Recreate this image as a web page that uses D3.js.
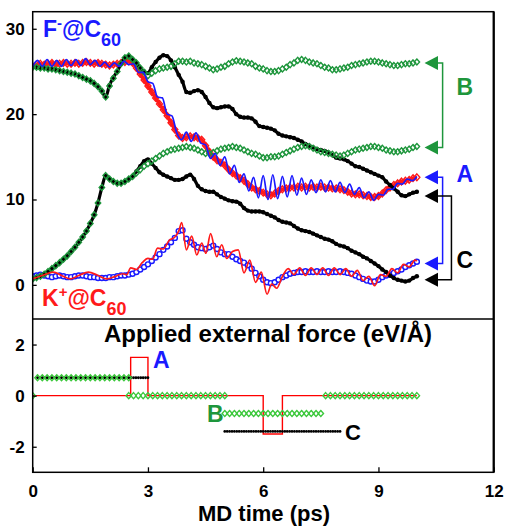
<!DOCTYPE html>
<html><head><meta charset="utf-8">
<script src="https://cdn.jsdelivr.net/npm/d3@7"></script>
<style>
body{margin:0;background:#fff;}
text{font-family:Arial,"Liberation Sans",Helvetica,sans-serif;font-weight:bold;}
</style>
</head><body><svg id="c" width="507" height="529"></svg>
<script>
// ---------- DATA ----------
const step = 0.1;          // sampling of marker series (ps)
const lineStep = 0.125;    // sampling of fBlueLine (ps)

// F-@C60 (upper group)
const fRed = [25.6,25.8,25.9,25.8,25.9,26.0,25.8,25.9,26.0,25.9,
 25.9,26.0,25.9,26.0,26.1,26.0,25.9,26.0,25.9,25.8,
 25.7,25.8,25.9,26.0,26.1,26.2,26.0,25.4,24.7,24.0,
 23.3,22.6,21.9,21.2,20.5,19.8,19.0,18.2,17.5,17.2,
 17.3,17.4,17.3,17.2,17.0,16.3,15.6,15.0,14.6,14.3,
 14.0,13.5,13.1,12.8,12.5,12.2,11.8,11.4,11.2,11.0,
 10.8,10.6,10.5,10.7,11.0,11.2,11.3,11.4,11.4,11.5,
 11.4,11.5,11.4,11.5,11.4,11.5,11.4,11.4,11.3,11.3,
 11.2,11.1,10.9,10.7,10.6,10.6,10.5,10.4,10.3,10.3,
 10.4,10.7,11.1,11.4,11.7,11.9,12.1,12.2,12.3,12.5,
 12.6];
const fGreen = [25.5,25.5,25.4,25.4,25.3,25.3,25.2,25.1,25.0,24.9,
 24.8,24.7,24.5,24.3,24.1,23.9,23.6,23.2,22.7,22.0,
 23.3,24.2,25.0,25.9,26.6,26.8,26.4,26.0,25.4,24.9,
 24.5,24.8,25.1,25.3,25.4,25.5,25.6,25.9,26.2,26.2,
 26.1,26.2,26.0,25.9,25.8,25.6,25.4,25.2,25.3,25.5,
 25.6,25.9,26.1,26.25,26.2,26.1,26.0,25.9,25.6,25.4,
 25.3,25.1,25.0,25.0,25.1,25.3,25.5,25.8,26.0,26.3,
 26.4,26.3,26.1,26.0,25.9,25.7,25.5,25.4,25.2,25.2,
 25.3,25.4,25.5,25.7,25.8,25.9,26.0,26.1,26.2,26.2,
 26.1,26.0,25.9,25.8,25.7,25.7,25.8,25.9,25.9,26.0,
 26.1];
const fBlack = [25.5,25.5,25.4,25.4,25.3,25.3,25.2,25.1,25.0,24.9,
 24.8,24.7,24.5,24.3,24.1,23.9,23.6,23.2,22.7,22.0,
 23.4,24.3,25.0,25.9,26.6,26.8,26.4,26.0,25.4,25.0,
 24.8,25.5,26.1,26.6,26.9,26.8,26.3,25.5,24.6,23.8,
 22.6,22.5,22.7,22.8,22.6,22.0,21.3,20.8,20.7,20.8,
 20.9,20.9,20.6,20.0,19.7,19.6,19.6,19.5,19.1,18.6,
 18.5,18.4,18.3,18.1,17.7,17.5,17.4,17.3,17.2,17.0,
 16.8,16.5,16.3,16.1,15.9,15.8,15.7,15.5,15.2,14.9,
 14.8,14.7,14.5,14.2,13.9,13.8,13.6,13.4,13.2,13.0,
 12.8,12.6,12.1,11.7,11.3,10.9,10.5,10.4,10.6,10.8,
 10.9];
const fBlueLine = [25.6,26.3,25.6,26.4,25.6,26.3,25.6,26.4,
 25.7,26.4,25.7,26.5,25.8,26.3,25.6,26.1,
 25.5,26.0,25.6,26.2,25.8,25.9,24.9,24.9,
 23.8,23.6,22.0,21.9,20.0,19.8,17.8,17.0,
 17.9,16.8,17.8,16.6,16.4,14.8,15.4,14.0,
 15.0,13.0,14.0,12.0,13.0,11.0,12.6,10.2,
 12.8,10.0,12.9,10.1,12.7,10.3,12.8,10.5,
 12.5,10.6,12.3,10.8,12.3,10.9,12.2,10.9,
 12.0,10.8,11.8,10.6,11.4,10.2,10.9,9.9,
 10.6,10.5,11.2,11.2,11.9,11.8,12.4,12.2,
 12.7];

// K+@C60 (lower group)
const kGreen = [0.7,0.85,1.0,1.25,1.55,1.9,2.25,2.6,3.0,3.4,
 3.9,4.4,5.0,5.6,6.3,7.2,8.2,9.6,11.4,12.8,
 12.4,12.1,11.9,11.9,12.1,12.4,12.7,13.1,13.5,13.9,
 14.2,14.5,14.8,15.1,15.4,15.6,15.8,15.9,16.0,16.1,
 16.2,16.1,16.0,15.8,15.6,15.4,15.4,15.5,15.7,15.9,
 16.0,16.1,16.2,16.1,16.0,15.8,15.6,15.4,15.3,15.1,
 14.9,14.9,15.0,15.0,15.1,15.3,15.5,15.7,15.9,16.1,
 16.2,16.3,16.2,16.0,15.8,15.6,15.5,15.4,15.3,15.2,
 15.1,15.2,15.4,15.6,15.8,15.9,16.0,16.1,16.2,16.2,
 16.1,16.0,15.8,15.7,15.6,15.6,15.7,15.8,15.9,16.1,
 16.2];
const kBlack = [0.7,0.85,1.0,1.25,1.55,1.9,2.25,2.6,3.0,3.4,
 3.9,4.4,5.0,5.6,6.3,7.2,8.2,9.6,11.4,12.8,
 12.4,12.1,11.9,11.9,12.1,12.4,12.7,13.3,13.9,14.5,
 14.7,14.2,13.7,13.2,12.9,12.7,12.5,12.3,12.3,12.4,
 12.7,12.9,12.4,11.6,11.2,11.0,10.9,10.9,10.6,10.3,
 10.1,9.9,9.8,9.75,9.5,9.0,8.7,8.6,8.6,8.6,
 8.5,8.3,8.1,7.9,7.6,7.4,7.3,7.2,6.9,6.6,
 6.4,6.3,6.2,6.0,5.8,5.6,5.4,5.3,5.1,4.8,
 4.6,4.5,4.3,4.0,3.8,3.6,3.3,3.1,2.8,2.5,
 2.2,1.8,1.5,1.1,0.8,0.6,0.5,0.4,0.5,0.8,
 1.0];
const kBlue = [1.0,1.1,1.2,1.1,1.0,0.9,1.0,1.1,1.0,0.9,
 0.9,1.0,1.1,1.1,1.0,0.9,0.9,0.8,0.8,0.8,
 0.9,0.9,1.0,1.1,1.1,1.2,1.3,1.5,1.8,2.1,
 2.4,2.8,3.2,3.6,4.1,4.5,5.0,5.5,6.3,6.4,
 5.4,5.0,4.7,4.4,4.3,4.2,4.4,4.6,4.2,3.8,
 3.6,3.6,3.3,3.0,2.8,2.6,2.3,1.9,1.4,1.0,
 0.6,0.3,0.2,0.3,0.6,0.9,1.1,1.3,1.4,1.5,
 1.5,1.6,1.5,1.5,1.6,1.5,1.5,1.6,1.5,1.5,
 1.6,1.5,1.4,1.3,1.1,0.9,0.7,0.5,0.4,0.4,
 0.6,0.9,1.1,1.2,1.4,1.6,1.8,2.1,2.3,2.5,
 2.7];
const kRedLine = [[0.0,0.7],[0.25,1.1],[0.54,1.5],[0.75,1.1],[0.97,0.7],[1.2,1.1],[1.45,1.5],[1.7,1.1],
 [1.93,0.7],[2.15,1.0],[2.35,1.3],[2.45,1.2],[2.55,2.0],[2.7,1.8],[2.85,2.6],[3.0,3.1],[3.12,3.0],
 [3.25,4.3],[3.4,4.2],[3.55,5.2],[3.7,5.6],[3.8,6.3],[3.88,7.3],[4.0,4.1],[4.14,5.7],[4.27,3.5],
 [4.4,4.9],[4.51,3.7],[4.63,6.0],[4.79,3.3],[4.92,4.7],[5.05,3.1],[5.2,3.9],[5.35,4.1],[5.5,1.4],
 [5.65,2.9],[5.8,0.3],[5.95,1.5],[6.1,-1.1],[6.22,0.1],[6.35,-0.4],[6.5,1.0],[6.65,1.9],[6.8,1.2],
 [6.95,2.0],[7.1,1.1],[7.25,2.0],[7.4,1.2],[7.55,2.0],[7.7,1.1],[7.85,2.0],[8.0,1.2],[8.15,1.9],
 [8.3,1.0],[8.45,1.7],[8.6,0.5],[8.75,1.0],[8.9,-0.1],[9.05,1.2],[9.2,1.0],[9.35,1.9],[9.5,1.4],
 [9.65,2.4],[9.8,2.1],[9.95,2.9],[10.0,2.8]];

// final-state arrows (values on the top axis)
const arrowB = [26.0, 16.1];
const arrowA = [12.6, 2.5];
const arrowC = [10.4, 0.6];

// Applied external force (eV/Å)
const forceA = [[0,0],[2.55,1.5],[3.0,0],[6.0,-1.5],[6.5,0],[10.0,0]];   // step function
const forceBStep = 0.125;
const forceB = [[0,0,0],[0.125,2.5,0.7],[2.5,5.0,0],[5.0,7.5,-0.7],[7.625,10.0,0]]; // [from,to,value]
const forceCStep = 0.0625;
const forceC = [[0.125,3.0,0.7],[5.0,8.0,-1.4]];

// ticks
const xTicks = [0,3,6,9,12];
const yTopTicks = [0,10,20,30];
const yBotTicks = [-2,0,2];

(function(){
// ---------- SCALES ----------
const svg = d3.select('#c');
svg.append('rect').attr('width',507).attr('height',529).attr('fill','#fff');
const L = 32.7, R = 493.7, T = 11.7, M = 319, B = 472.3;
const x = d3.scaleLinear().domain([0,12]).range([L,R]);
const yT = d3.scaleLinear().domain([-4,32]).range([M,T]);
const yB = d3.scaleLinear().domain([-3,3]).range([B,M]);

const BLUE = '#1a1aff', RED = '#ff1a1a', GREEN = '#1e963c', LGREEN = '#3cc83c';

const defs = svg.append('defs');
defs.append('clipPath').attr('id','clipT').append('rect').attr('x',L).attr('y',T).attr('width',R-L).attr('height',M-T);
defs.append('clipPath').attr('id','clipB').append('rect').attr('x',L).attr('y',M).attr('width',R-L).attr('height',B-M);

const gridPts = (arr, s) => arr.map((v,i)=>[i*s, v]);
const diamond = 'M0,-3L2.7,0L0,3L-2.7,0Z';
const diamondR = 'M0,-3.4L3,0L0,3.4L-3,0Z';
const lineT = d3.line().x(d=>x(d[0])).y(d=>yT(d[1])).curve(d3.curveMonotoneX);

const gTop = svg.append('g').attr('clip-path','url(#clipT)');

// F red band
const fRedPts = gridPts(fRed, step);
gTop.append('path').datum(fRedPts).attr('d', lineT)
  .attr('fill','none').attr('stroke',RED).attr('stroke-width',3.6);
gTop.append('g').selectAll('path').data(fRedPts).join('path')
  .attr('d',diamondR).attr('transform',d=>`translate(${x(d[0])},${yT(d[1])})`)
  .attr('fill','none').attr('stroke',RED).attr('stroke-width',1.4);

// K blue markers
const kBluePts = gridPts(kBlue, step);
gTop.append('g').selectAll('circle').data(kBluePts).join('circle')
  .attr('cx',d=>x(d[0])).attr('cy',d=>yT(d[1])).attr('r',2.5)
  .attr('fill','#fff').attr('stroke',BLUE).attr('stroke-width',1.4);

// black dots (dense, drawn as a thick dotted trace)
[fBlack, kBlack].forEach(arr=>{
  const pts = gridPts(arr, step);
  gTop.append('path').datum(pts).attr('d', lineT)
    .attr('fill','none').attr('stroke','#000').attr('stroke-width',3.2).attr('stroke-linecap','round');
  gTop.append('g').selectAll('circle').data(pts).join('circle')
    .attr('cx',d=>x(d[0])).attr('cy',d=>yT(d[1])).attr('r',2.2).attr('fill','#000');
});
// green diamonds
[fGreen, kGreen].forEach(arr=>{
  gTop.append('g').selectAll('path').data(gridPts(arr, step)).join('path')
    .attr('d',diamond).attr('transform',d=>`translate(${x(d[0])},${yT(d[1])})`)
    .attr('fill','none').attr('stroke',GREEN).attr('stroke-width',1.4);
});
// F blue line
gTop.append('path').datum(gridPts(fBlueLine, lineStep)).attr('d', lineT)
  .attr('fill','none').attr('stroke',BLUE).attr('stroke-width',1.7);
// K red line
gTop.append('path').datum(kRedLine).attr('d', lineT)
  .attr('fill','none').attr('stroke',RED).attr('stroke-width',1.7);

// arrows + brackets
function arrows(vals, color, bx){
  const tip = x(10.2), base = x(10.55);
  const g = svg.append('g');
  vals.forEach(v=>{
    const yy = yT(v);
    g.append('path').attr('d',`M${tip},${yy}L${base},${yy-7}L${base},${yy+7}Z`).attr('fill',color);
  });
  const y1 = yT(vals[0]), y2 = yT(vals[1]);
  g.append('path').attr('d',`M${base},${y1}H${x(bx)}V${y2}H${base}`)
    .attr('fill','none').attr('stroke',color).attr('stroke-width',1.5);
}
arrows(arrowB, GREEN, 10.67);
arrows(arrowA, BLUE, 10.67);
arrows(arrowC, '#000', 10.9);

svg.append('text').attr('x',x(11.25)).attr('y',95).attr('text-anchor','middle').attr('font-size',23).attr('fill',GREEN).text('B');
svg.append('text').attr('x',x(11.25)).attr('y',181.5).attr('text-anchor','middle').attr('font-size',23).attr('fill',BLUE).text('A');
svg.append('text').attr('x',x(11.25)).attr('y',268).attr('text-anchor','middle').attr('font-size',23).attr('fill','#000').text('C');

// species labels
function species(x0, yb, sign, color){
  const t = svg.append('text').attr('fill',color).attr('font-size',23);
  t.append('tspan').attr('x',x0).attr('y',yb).text(sign==='-'?'F':'K');
  t.append('tspan').attr('font-size',15).attr('dy',-9).text(sign);
  t.append('tspan').attr('dy',9).text('@C');
  t.append('tspan').attr('font-size',18).attr('dy',9).text('60');
}
species(43, 37, '-', BLUE);
species(42, 306, '+', RED);

// ---------- BOTTOM PANEL ----------
const bot = svg.append('g').attr('clip-path','url(#clipB)');
bot.append('path').datum(forceA)
  .attr('d', d3.line().x(d=>x(d[0])).y(d=>yB(d[1])).curve(d3.curveStepAfter))
  .attr('fill','none').attr('stroke','#ff0000').attr('stroke-width',1.4);
const cPts = forceC.flatMap(([a,b,v])=>d3.range(a, b+1e-9, forceCStep).map(t=>[t,v]));
bot.append('g').selectAll('circle').data(cPts).join('circle')
  .attr('cx',d=>x(d[0])).attr('cy',d=>yB(d[1])).attr('r',1.4).attr('fill','#000');
const bPts = forceB.flatMap(([a,b,v])=>d3.range(a, b+1e-9, forceBStep).map(t=>[t,v]));
bot.append('g').selectAll('path').data(bPts).join('path')
  .attr('d',diamond).attr('transform',d=>`translate(${x(d[0])},${yB(d[1])})`)
  .attr('fill','none').attr('stroke',LGREEN).attr('stroke-width',1.4);

svg.append('text').attr('x',268).attr('y',342).attr('text-anchor','middle').attr('font-size',24).attr('fill','#000')
  .text('Applied external force (eV/Å)');
svg.append('text').attr('x',153).attr('y',368).attr('font-size',23).attr('fill',BLUE).text('A');
svg.append('text').attr('x',207).attr('y',422).attr('font-size',23).attr('fill',GREEN).text('B');
svg.append('text').attr('x',345).attr('y',440).attr('font-size',22).attr('fill','#000').text('C');

// ---------- AXES & FRAME ----------
function styleAxis(g){
  g.select('.domain').remove();
  g.selectAll('line').attr('stroke','#000').attr('stroke-width',1.3);
  g.selectAll('text').attr('font-size',17).attr('fill','#000')
   .style('font-family','Arial,"Liberation Sans",sans-serif').style('font-weight','bold');
}
svg.append('g').attr('transform',`translate(${L},0)`)
  .call(d3.axisLeft(yT).tickValues(yTopTicks).tickSize(-4).tickPadding(8).tickFormat(d=>String(d))).call(styleAxis);
svg.append('g').attr('transform',`translate(${L},0)`)
  .call(d3.axisLeft(yB).tickValues(yBotTicks).tickSize(-4).tickPadding(8).tickFormat(d=>String(d))).call(styleAxis);
svg.append('g').attr('transform',`translate(0,${B})`)
  .call(d3.axisBottom(x).tickValues(xTicks).tickSize(-5).tickPadding(12.5).tickFormat(d=>String(d))).call(styleAxis);

svg.append('rect').attr('x',L).attr('y',T).attr('width',R-L).attr('height',B-T)
  .attr('fill','none').attr('stroke','#000').attr('stroke-width',1.5);
svg.append('line').attr('x1',L).attr('x2',R).attr('y1',M).attr('y2',M).attr('stroke','#000').attr('stroke-width',1.5);
svg.append('line').attr('x1',R).attr('x2',R).attr('y1',T).attr('y2',B).attr('stroke','#000').attr('stroke-width',2.2);

svg.append('text').attr('x',264).attr('y',520.5).attr('text-anchor','middle').attr('font-size',22).attr('fill','#000')
  .text('MD time (ps)');
})();
</script></body></html>
